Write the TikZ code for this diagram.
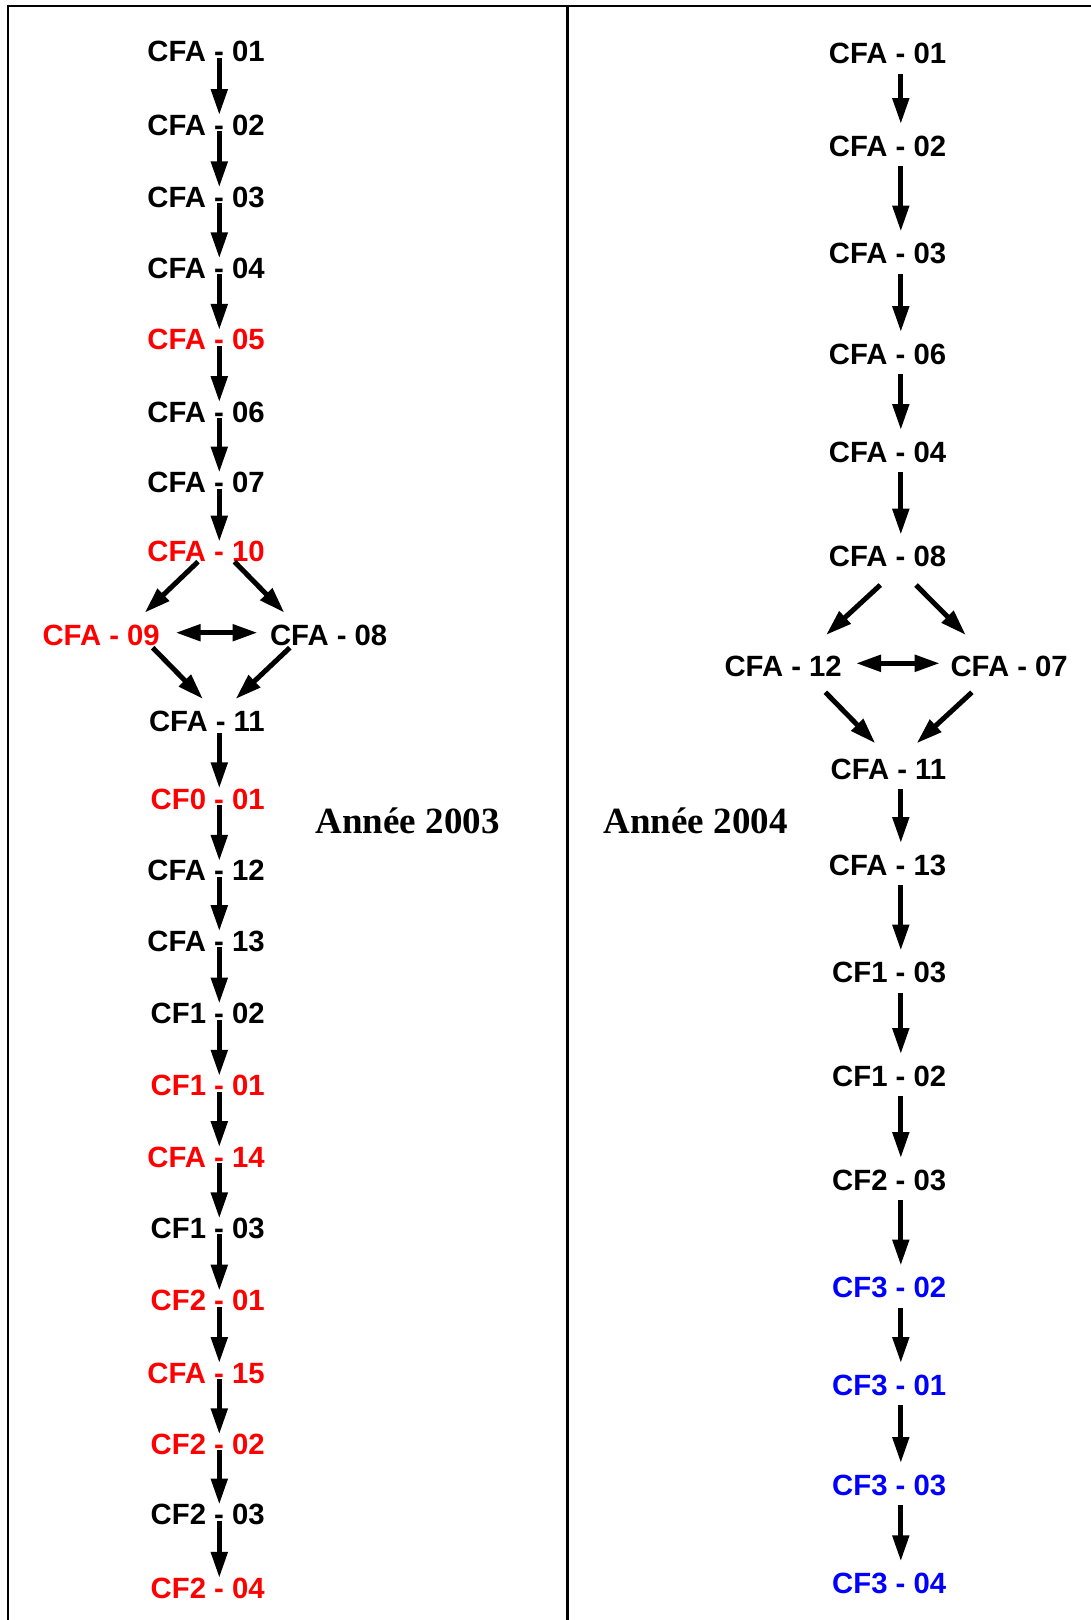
\documentclass[tikz,border=0pt]{standalone}
\usepackage{fontspec}
\setmainfont{Liberation Sans}
\newfontfamily\anneefont{Liberation Serif}
\usetikzlibrary{arrows.meta}
\definecolor{redc}{RGB}{255,0,0}
\definecolor{bluec}{RGB}{0,0,255}
\begin{document}
\begin{tikzpicture}[x=1pt,y=-1pt,
  lbl/.style={font=\fontsize{29.3}{31}\selectfont\bfseries, inner sep=0pt, anchor=east},
  rl/.style={lbl, text=redc},
  bl/.style={lbl, text=bluec},
  yr/.style={font=\anneefont\bfseries\fontsize{37}{40}\selectfont, inner sep=0pt, anchor=base west},
  arr/.style={line width=5pt, -{Triangle[length=26pt,width=16pt]}},
  darr/.style={line width=5pt, {Triangle[length=25pt,width=16pt]}-{Triangle[length=25pt,width=16pt]}},
  larr/.style={arr, shorten <=6pt, shorten >=10pt},
  rarr/.style={arr, shorten <=20pt, shorten >=22pt},
  frame/.style={line width=2.3pt}
]
\useasboundingbox (0,0) rectangle (1091,1620);
% frame
\coordinate (tl) at (7.8,6.2);
\coordinate (tr) at (1091,6.2);
\coordinate (bl) at (7.8,1620);
\coordinate (mt) at (567.7,6.2);
\coordinate (mb) at (567.7,1620);
\draw[frame] (bl) -- (tl) -- (tr);
\draw[line width=3.3pt] (mt) -- (mb);

% column axes
\coordinate (xl) at (219.3,0);
\coordinate (xr) at (900.8,0);

% ---------- Left: 2003 ----------
\node[lbl] (l01) at (264.9,51.7) {CFA - 01};
\node[lbl] (l02) at (264.9,125) {CFA - 02};
\node[lbl] (l03) at (264.9,197.3) {CFA - 03};
\node[lbl] (l04) at (264.9,268.3) {CFA - 04};
\node[rl]  (l05) at (264.9,339.9) {CFA - 05};
\node[lbl] (l06) at (264.9,412.2) {CFA - 06};
\node[lbl] (l07) at (264.9,482.5) {CFA - 07};
\node[rl]  (l10) at (264.9,551.7) {CFA - 10};
\node[rl]  (l09) at (160,635) {CFA - 09};
\node[lbl] (l08) at (387.5,635) {CFA - 08};
\node[lbl] (l11) at (264.9,721.7) {CFA - 11};
\node[rl]  (lf001) at (264.9,799.3) {CF0 - 01};
\node[lbl] (l12) at (264.9,870.9) {CFA - 12};
\node[lbl] (l13) at (264.9,941.2) {CFA - 13};
\node[lbl] (lf102) at (264.9,1013.5) {CF1 - 02};
\node[rl]  (lf101) at (264.9,1085.8) {CF1 - 01};
\node[rl]  (l14) at (264.9,1157.1) {CFA - 14};
\node[lbl] (lf103) at (264.9,1228.4) {CF1 - 03};
\node[rl]  (lf201) at (264.9,1300.7) {CF2 - 01};
\node[rl]  (l15) at (264.9,1373) {CFA - 15};
\node[rl]  (lf202) at (264.9,1444.3) {CF2 - 02};
\node[lbl] (lf203) at (264.9,1514.5) {CF2 - 03};
\node[rl]  (lf204) at (264.9,1587.9) {CF2 - 04};

\node[yr] (y2003) at (315.5,833.3) {Année 2003};

\foreach \a/\b in {l01/l02,l02/l03,l03/l04,l04/l05,l05/l06,l06/l07,l07/l10,
  lf001/l12,l12/l13,l13/lf102,lf102/lf101,lf101/l14,l14/lf103,lf103/lf201,
  lf201/l15,l15/lf202,lf202/lf203,lf203/lf204}
  \draw[larr] (\a -| xl) -- (\b -| xl);
\draw[arr, shorten <=11.6pt, shorten >=11pt] (l11 -| xl) -- (lf001 -| xl);

% left diamond
\coordinate (la1) at (198,561.7);   \coordinate (la2) at (144.7,612.7);
\coordinate (lb1) at (234.5,561.7); \coordinate (lb2) at (284.4,612.7);
\coordinate (ld1) at (175.6,632.7); \coordinate (ld2) at (257.5,632.7);
\coordinate (lc1) at (152.7,647.7); \coordinate (lc2) at (203,699);
\coordinate (le1) at (289.8,647.7); \coordinate (le2) at (235.6,699);
\draw[arr] (la1) -- (la2);
\draw[arr] (lb1) -- (lb2);
\draw[darr] (ld1) -- (ld2);
\draw[arr] (lc1) -- (lc2);
\draw[arr] (le1) -- (le2);

% ---------- Right: 2004 ----------
\node[lbl] (r01) at (946.4,53.5) {CFA - 01};
\node[lbl] (r02) at (946.4,146) {CFA - 02};
\node[lbl] (r03) at (946.4,253.5) {CFA - 03};
\node[lbl] (r06) at (946.4,354) {CFA - 06};
\node[lbl] (r04) at (946.4,452) {CFA - 04};
\node[lbl] (r08) at (946.4,556.7) {CFA - 08};
\node[lbl] (r12) at (842,666.5) {CFA - 12};
\node[lbl] (r07) at (1068,666.5) {CFA - 07};
\node[lbl] (r11) at (946.4,769.3) {CFA - 11};
\node[lbl] (r13) at (946.4,865) {CFA - 13};
\node[lbl] (rf103) at (946.4,972.5) {CF1 - 03};
\node[lbl] (rf102) at (946.4,1076) {CF1 - 02};
\node[lbl] (rf203) at (946.4,1180) {CF2 - 03};
\node[bl]  (rf302) at (946.4,1287.5) {CF3 - 02};
\node[bl]  (rf301) at (946.4,1385) {CF3 - 01};
\node[bl]  (rf303) at (946.4,1485) {CF3 - 03};
\node[bl]  (rf304) at (946.4,1583.3) {CF3 - 04};

\node[yr] (y2004) at (603.4,833.3) {Année 2004};

\foreach \a/\b in {r01/r02,r02/r03,r03/r06,r06/r04,r04/r08,
  r11/r13,r13/rf103,rf103/rf102,rf102/rf203,rf203/rf302,rf302/rf301,
  rf301/rf303,rf303/rf304}
  \draw[rarr] (\a -| xr) -- (\b -| xr);

% right diamond
\coordinate (ra1) at (880.3,585);   \coordinate (ra2) at (826,635);
\coordinate (rb1) at (916,585);     \coordinate (rb2) at (965.8,635);
\coordinate (rd1) at (856,663.3);   \coordinate (rd2) at (939.7,663.3);
\coordinate (rc1) at (825.4,692.3); \coordinate (rc2) at (875.3,743.3);
\coordinate (re1) at (971.9,692.3); \coordinate (re2) at (916.6,743.3);
\draw[arr] (ra1) -- (ra2);
\draw[arr] (rb1) -- (rb2);
\draw[darr] (rd1) -- (rd2);
\draw[arr] (rc1) -- (rc2);
\draw[arr] (re1) -- (re2);
\end{tikzpicture}
\end{document}
